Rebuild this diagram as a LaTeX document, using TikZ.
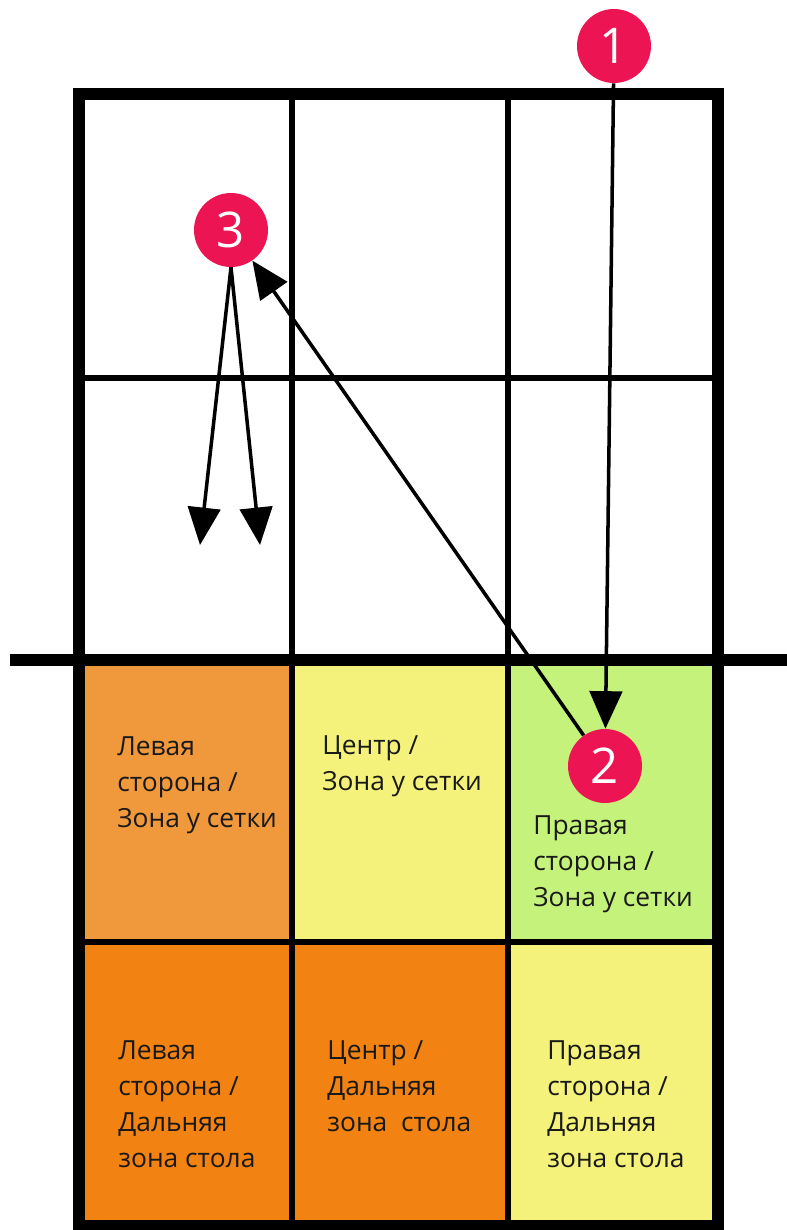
\documentclass[tikz,border=0pt]{standalone}
\usepackage{fontspec}
\setmainfont{Open Sans}
\usetikzlibrary{arrows.meta}
\definecolor{ballred}{RGB}{236,20,82}
\definecolor{nearleft}{RGB}{240,152,60}
\definecolor{paleyellow}{RGB}{245,242,124}
\definecolor{palegreen}{RGB}{196,242,122}
\definecolor{deeporange}{RGB}{242,130,18}
\tikzset{
  ball/.style     = {circle, fill=ballred, minimum size=1.48cm, inner sep=0pt,
                     text=white, font=\fontsize{28}{28}\selectfont},
  zone/.style     = {anchor=north west, align=left, inner sep=0pt,
                     text=black!90, font=\fontsize{15}{20.5}\selectfont},
  shot/.style     = {line width=2pt, -{Triangle[length=0.75cm,width=0.65cm]}},
  borderline/.style = {line width=6.8pt},
  gridline/.style = {line width=3.4pt}
}

\begin{document}
\begin{tikzpicture}[x=0.02cm, y=-0.02cm]
	\useasboundingbox (0,0) rectangle (787,1230);
	\fill[nearleft]   (79,660) rectangle (292,942);
	\fill[paleyellow] (292,660) rectangle (508,942);
	\fill[palegreen]  (508,660) rectangle (718,942);
	\fill[deeporange] (79,942) rectangle (508,1226);
	\fill[paleyellow] (508,942) rectangle (718,1226);
	\draw[gridline] (292,94) -- (292,1226) (508,94) -- (508,1226)
	                (79,378) -- (718,378) (79,942) -- (718,942);
	\draw[borderline] (79,94) rectangle (718,1226);
	\draw[borderline] (10,660) -- (787,660);
	\node[zone] (nl) at (117,736) {Левая\\сторона /\\Зона у сетки};
	\node[zone] (nc) at (322,735) {Центр /\\Зона у сетки};
	\node[zone] (nr) at (533,815) {Правая\\сторона /\\Зона у сетки};
	\node[zone] (fl) at (118,1040) {Левая\\сторона /\\Дальняя\\зона стола};
	\node[zone] (fc) at (327,1040) {Центр /\\Дальняя\\зона\ \ стола};
	\node[zone] (fr) at (547,1040) {Правая\\сторона /\\Дальняя\\зона стола};
	\node[ball] (P1) at (614,46) {1};
	\node[ball] (P3) at (231,230) {3};
	\node[ball] (P2) at (605,766) {2};
	\coordinate (L) at (200,545);
	\coordinate (R) at (260,545);
	\draw[shot] (P1) -- (P2);
	\draw[shot] (P2) -- (P3);
	\draw[shot] (P3.south) -- (L);
	\draw[shot] (P3.south) -- (R);
\end{tikzpicture}
\end{document}
